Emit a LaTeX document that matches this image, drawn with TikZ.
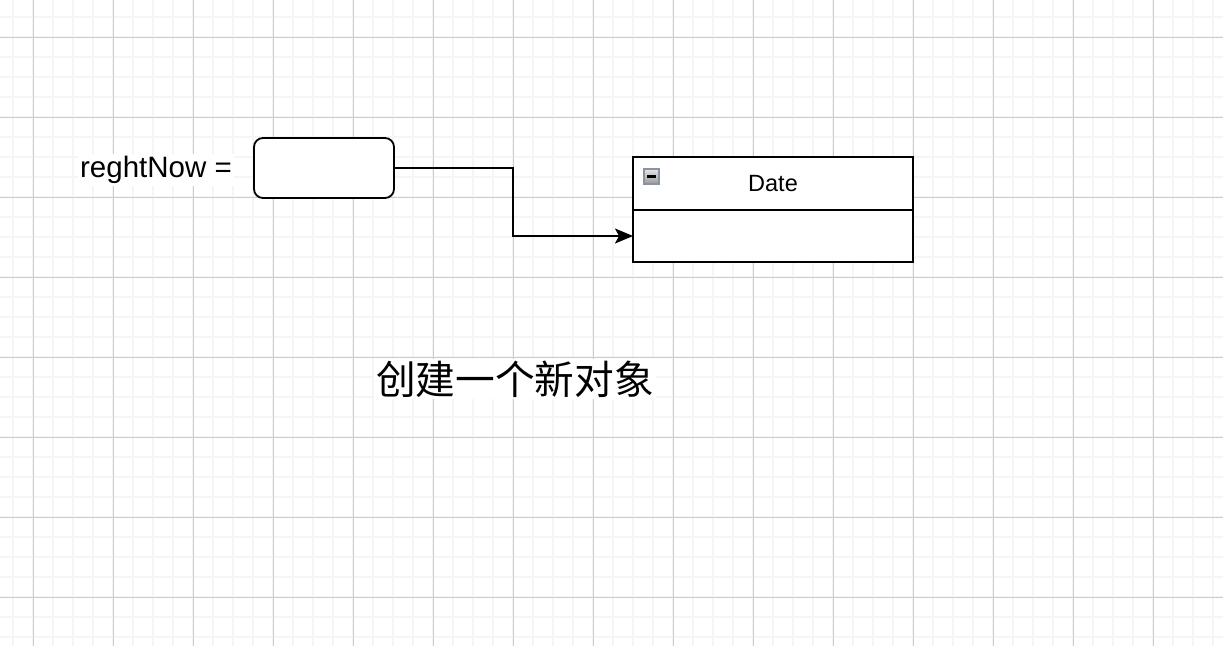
\documentclass[tikz,border=0pt]{standalone}
\usepackage{fontspec}
\setmainfont{Liberation Sans}
\newfontfamily\cjk{Noto Sans CJK SC}
\usetikzlibrary{arrows.meta}
\tikzset{
  minorgrid/.style={draw=black!4, line width=1.6pt},
  majorgrid/.style={draw=black!20, line width=1pt},
  refbox/.style={draw=black, line width=1.8pt, rounded corners=9pt, fill=white,
    minimum width=140pt, minimum height=60pt, outer sep=0pt},
  classbox/.style={draw=black, line width=1.8pt, fill=white, minimum width=280pt,
    inner sep=0pt, outer sep=0pt},
  plainlbl/.style={fill=white, inner sep=2pt, text=black},
  minusicon/.style={draw={rgb,255:red,138;green,147;blue,165}, line width=1.2pt,
    top color=black!10, bottom color=black!40, minimum size=15pt, inner sep=0pt},
  conn/.style={draw=black, line width=1.8pt, -{Stealth[length=18pt,width=15pt,inset=4pt]}},
}
\begin{document}
\begin{tikzpicture}[x=1pt,y=-1pt]
\useasboundingbox (0,0) rectangle (1223,646);
\fill[white] (0,0) rectangle (1223,646);
% grid
\foreach \x in {13,33,...,1213} \draw[minorgrid] (\x,0) -- (\x,646);
\foreach \y in {17,37,...,637} \draw[minorgrid] (0,\y) -- (1223,\y);
\foreach \x in {33,113,...,1193} \draw[majorgrid] (\x,0) -- (\x,646);
\foreach \y in {37,117,...,597} \draw[majorgrid] (0,\y) -- (1223,\y);
% label
\node[plainlbl, font=\fontsize{29.5}{33}\selectfont] (name) at (156,170) {reghtNow =};
% reference box
\node[refbox] (ref) at (324,168) {};
% class Date
\node[classbox, minimum height=53pt, font=\fontsize{23.5}{27}\selectfont] (head) at (773,183.5) {Date};
\node[classbox, minimum height=52pt, anchor=north] (body) at (head.south) {};
\node[minusicon] (icon) at (651.5,176.5) {};
\draw[line width=2.5pt] (icon.center) ++(-4.5,0) -- ++(9,0);
% connector
\coordinate (bend) at (513,168);
\draw[conn] (ref.east) -- (bend) |- (body.west);
% caption
\node[plainlbl, font=\cjk\fontsize{39.7}{44}\selectfont] (caption) at (515,379) {创建一个新对象};
\end{tikzpicture}
\end{document}
